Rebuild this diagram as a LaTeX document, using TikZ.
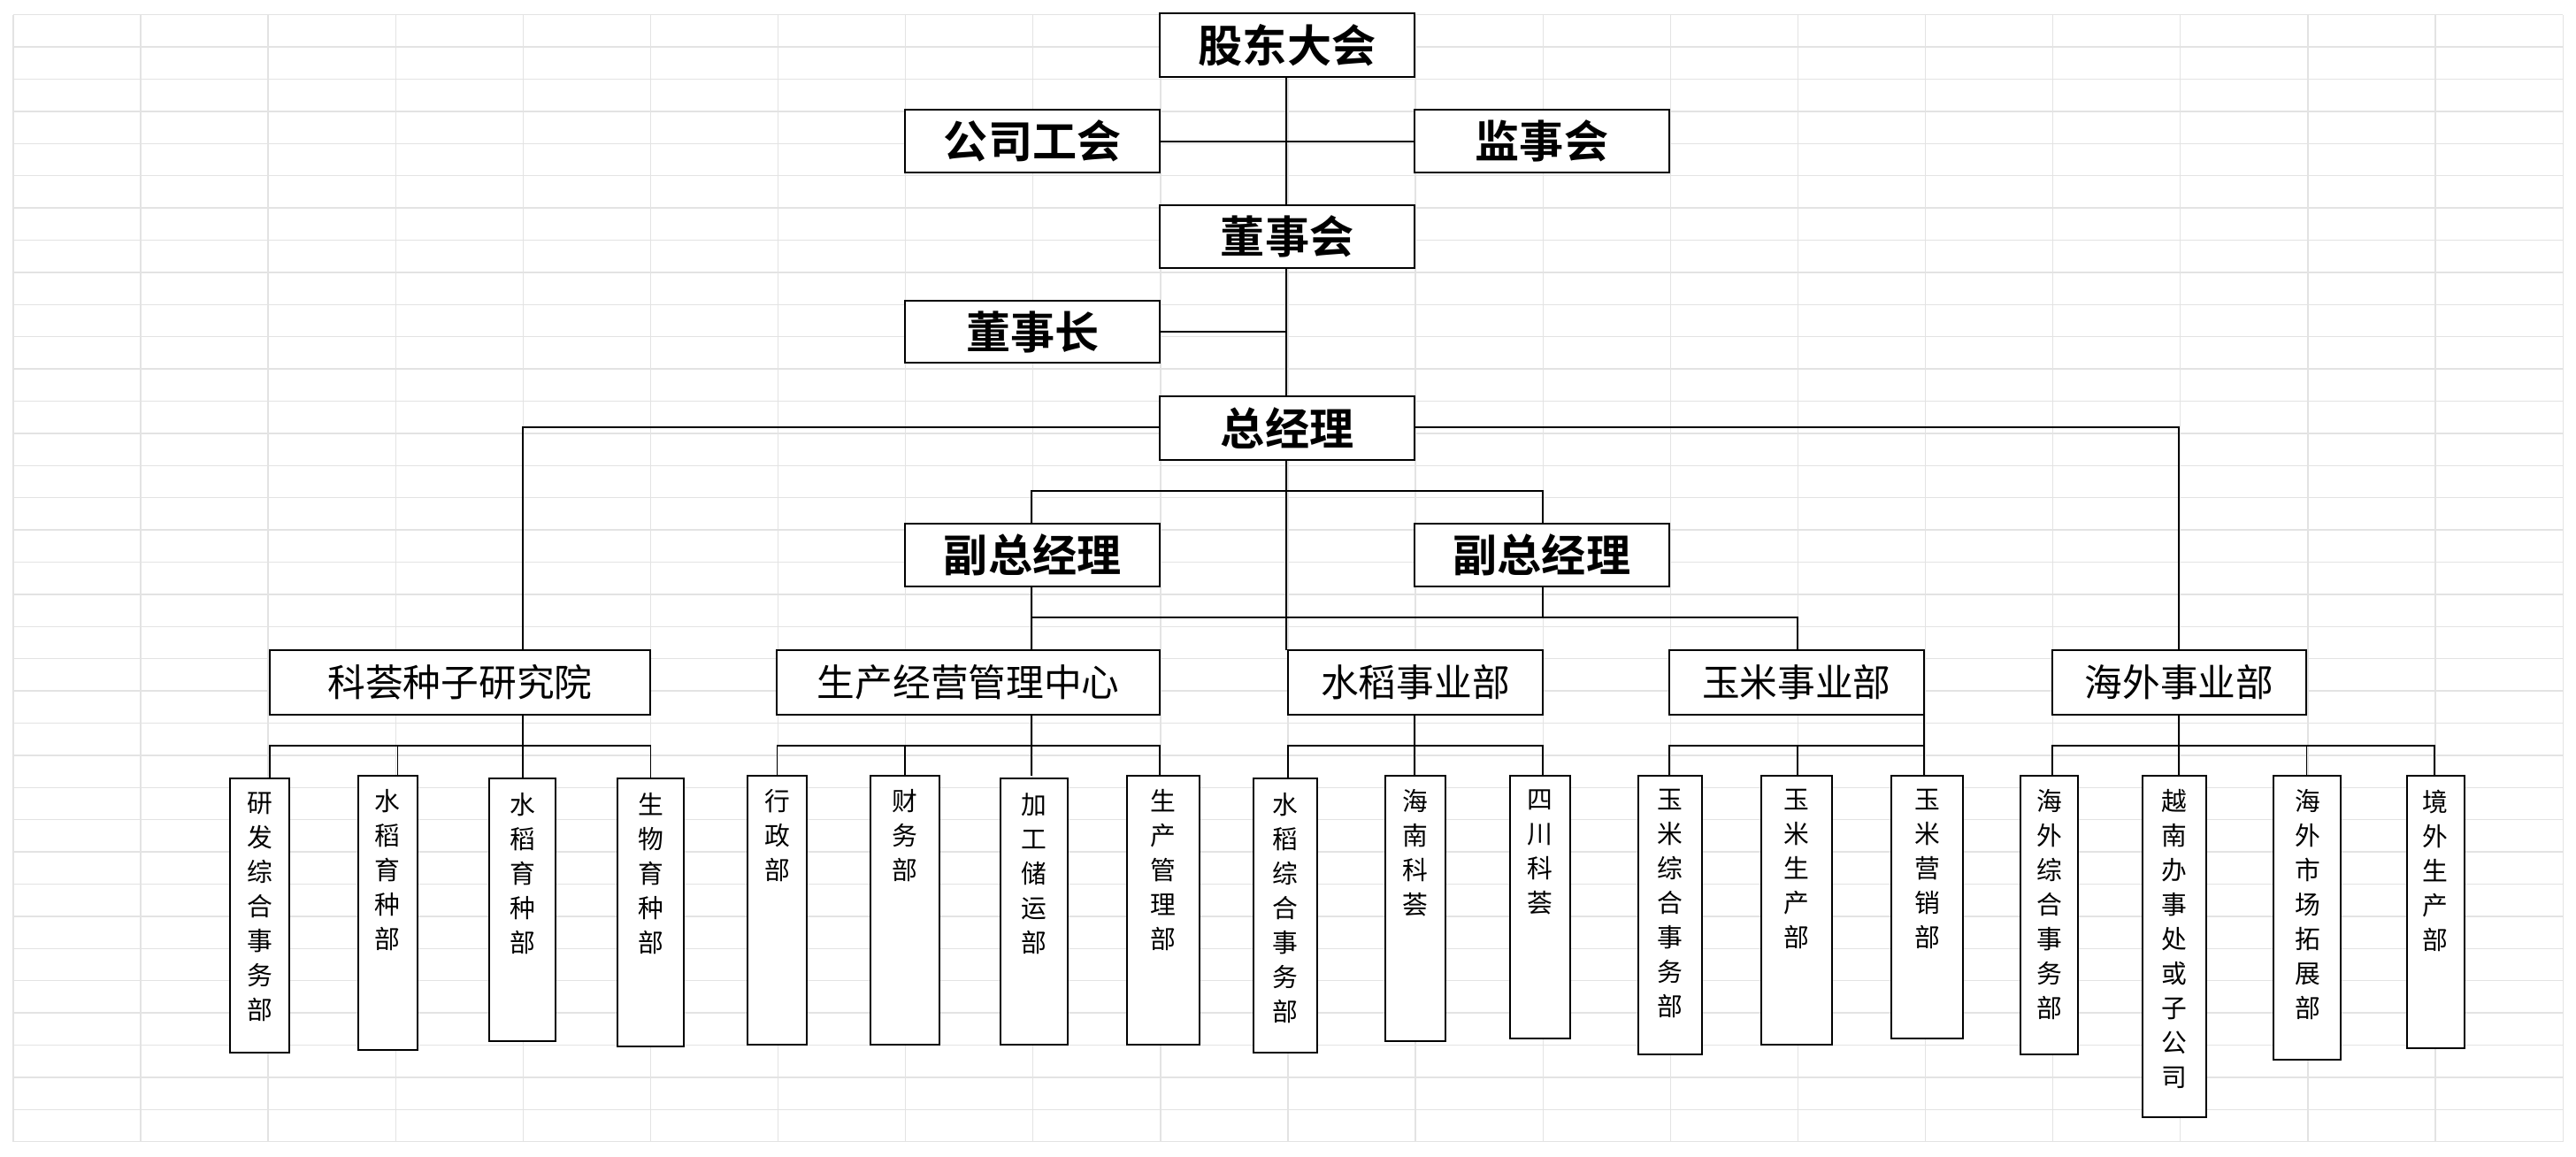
\documentclass[tikz,border=0pt]{standalone}
\usepackage{fontspec}
\setmainfont{Noto Sans CJK SC}
\newfontfamily\bfnt{Noto Sans CJK SC Bold}
\begin{document}
\begin{tikzpicture}[x=1pt,y=-1pt,
  bx/.style={draw,line width=1.1pt,inner sep=0pt,fill=white},
  ln/.style={line width=1pt},
  gl/.style={gray!22,line width=0.7pt},
  big/.style={font=\bfnt\fontsize{27}{30}\selectfont},
  mid/.style={font=\fontsize{23}{26}\selectfont},
  lf/.style={font=\fontsize{15.5}{21}\selectfont,align=center,anchor=north,inner sep=0pt}]
\useasboundingbox[fill=white] (0,0) rectangle (1568,704);
\foreach \i in {0,...,20} \draw[gl] ({8+77.6*\i},9) -- ({8+77.6*\i},695);
\foreach \k in {0,...,35} \draw[gl] (8,{9+19.6*\k}) -- (1560,{9+19.6*\k});
\newcommand\bx[6]{\node[bx,minimum width={(#3-#2)*1pt},minimum height={(#5-#4)*1pt}] (#1) at ({(#2+#3)/2},{(#4+#5)/2}) {#6};}
\newcommand\lfb[6]{\node[bx,minimum width={(#3-#2)*1pt},minimum height={(#5-#4)*1pt}] (#1) at ({(#2+#3)/2},{(#4+#5)/2}) {};
  \node[lf] (#1t) at ([yshift=-9pt]#1.north) {#6};}
% connectors first (boxes drawn over)
\draw[ln] (783,28) -- (783,396);
\draw[ln] (706,86) -- (861,86);
\draw[ln] (706,202) -- (783,202);
\draw[ln] (706,260) -| (318,396);
\draw[ln] (861,260) -| (1326,396);
\draw[ln] (628,319) |- (939,299) -- (939,319);
\draw[ln] (628,357) -- (628,396);
\draw[ln] (628,376) -| (1094,396);
\draw[ln] (939,357) -- (939,376);
% level 3 sub-bars
\draw[ln] (318,435) -- (318,454); \draw[ln] (164,474) |- (396,454) -- (396,474);
\foreach \x in {242,318} \draw[ln] (\x,454) -- (\x,474);
\draw[ln] (628,435) -- (628,454); \draw[ln] (473,472) |- (706,454) -- (706,472);
\foreach \x in {551,628} \draw[ln] (\x,454) -- (\x,472);
\draw[ln] (861,435) -- (861,454); \draw[ln] (784,474) |- (939,454) -- (939,472);
\draw[ln] (861,454) -- (861,472);
\draw[ln] (1171,396) -- (1171,454); \draw[ln] (1016,472) |- (1171,454) -- (1171,472);
\draw[ln] (1094,454) -- (1094,472);
\draw[ln] (1326,435) -- (1326,454); \draw[ln] (1249,472) |- (1482,454) -- (1482,472);
\foreach \x in {1326,1404} \draw[ln] (\x,454) -- (\x,472);
% top boxes
\begin{scope}[every node/.append style={big}]
\bx{gd}{706}{861}{8}{47}{股东大会}
\bx{gh}{551}{706}{67}{105}{公司工会}
\bx{js}{861}{1016}{67}{105}{监事会}
\bx{ds}{706}{861}{125}{163}{董事会}
\bx{dsz}{551}{706}{183}{221}{董事长}
\bx{zj}{706}{861}{241}{280}{总经理}
\bx{fa}{551}{706}{319}{357}{副总经理}
\bx{fb}{861}{1016}{319}{357}{副总经理}
\end{scope}
\begin{scope}[every node/.append style={mid}]
\bx{kh}{164}{396}{396}{435}{科荟种子研究院}
\bx{sc}{473}{706}{396}{435}{生产经营管理中心}
\bx{sd}{784}{939}{396}{435}{水稻事业部}
\bx{ym}{1016}{1171}{396}{435}{玉米事业部}
\bx{hw}{1249}{1404}{396}{435}{海外事业部}
\end{scope}
\lfb{a1}{140}{176}{474}{641}{研\\发\\综\\合\\事\\务\\部}
\lfb{a2}{218}{254}{472}{639}{水\\稻\\育\\种\\部}
\lfb{a3}{298}{338}{474}{634}{水\\稻\\育\\种\\部}
\lfb{a4}{376}{416}{474}{637}{生\\物\\育\\种\\部}
\lfb{b1}{455}{491}{472}{636}{行\\政\\部}
\lfb{b2}{530}{572}{472}{636}{财\\务\\部}
\lfb{b3}{609}{650}{474}{636}{加\\工\\储\\运\\部}
\lfb{b4}{686}{730}{472}{636}{生\\产\\管\\理\\部}
\lfb{c1}{763}{802}{474}{641}{水\\稻\\综\\合\\事\\务\\部}
\lfb{c2}{843}{880}{472}{634}{海\\南\\科\\荟}
\lfb{c3}{919}{956}{472}{632}{四\\川\\科\\荟}
\lfb{d1}{997}{1036}{472}{642}{玉\\米\\综\\合\\事\\务\\部}
\lfb{d2}{1072}{1115}{472}{636}{玉\\米\\生\\产\\部}
\lfb{d3}{1151}{1195}{472}{632}{玉\\米\\营\\销\\部}
\lfb{e1}{1230}{1265}{472}{642}{海\\外\\综\\合\\事\\务\\部}
\lfb{e2}{1304}{1343}{472}{680}{越\\南\\办\\事\\处\\或\\子\\公\\司}
\lfb{e3}{1384}{1425}{472}{645}{海\\外\\市\\场\\拓\\展\\部}
\lfb{e4}{1465}{1500}{472}{638}{境\\外\\生\\产\\部}
\end{tikzpicture}
\end{document}
